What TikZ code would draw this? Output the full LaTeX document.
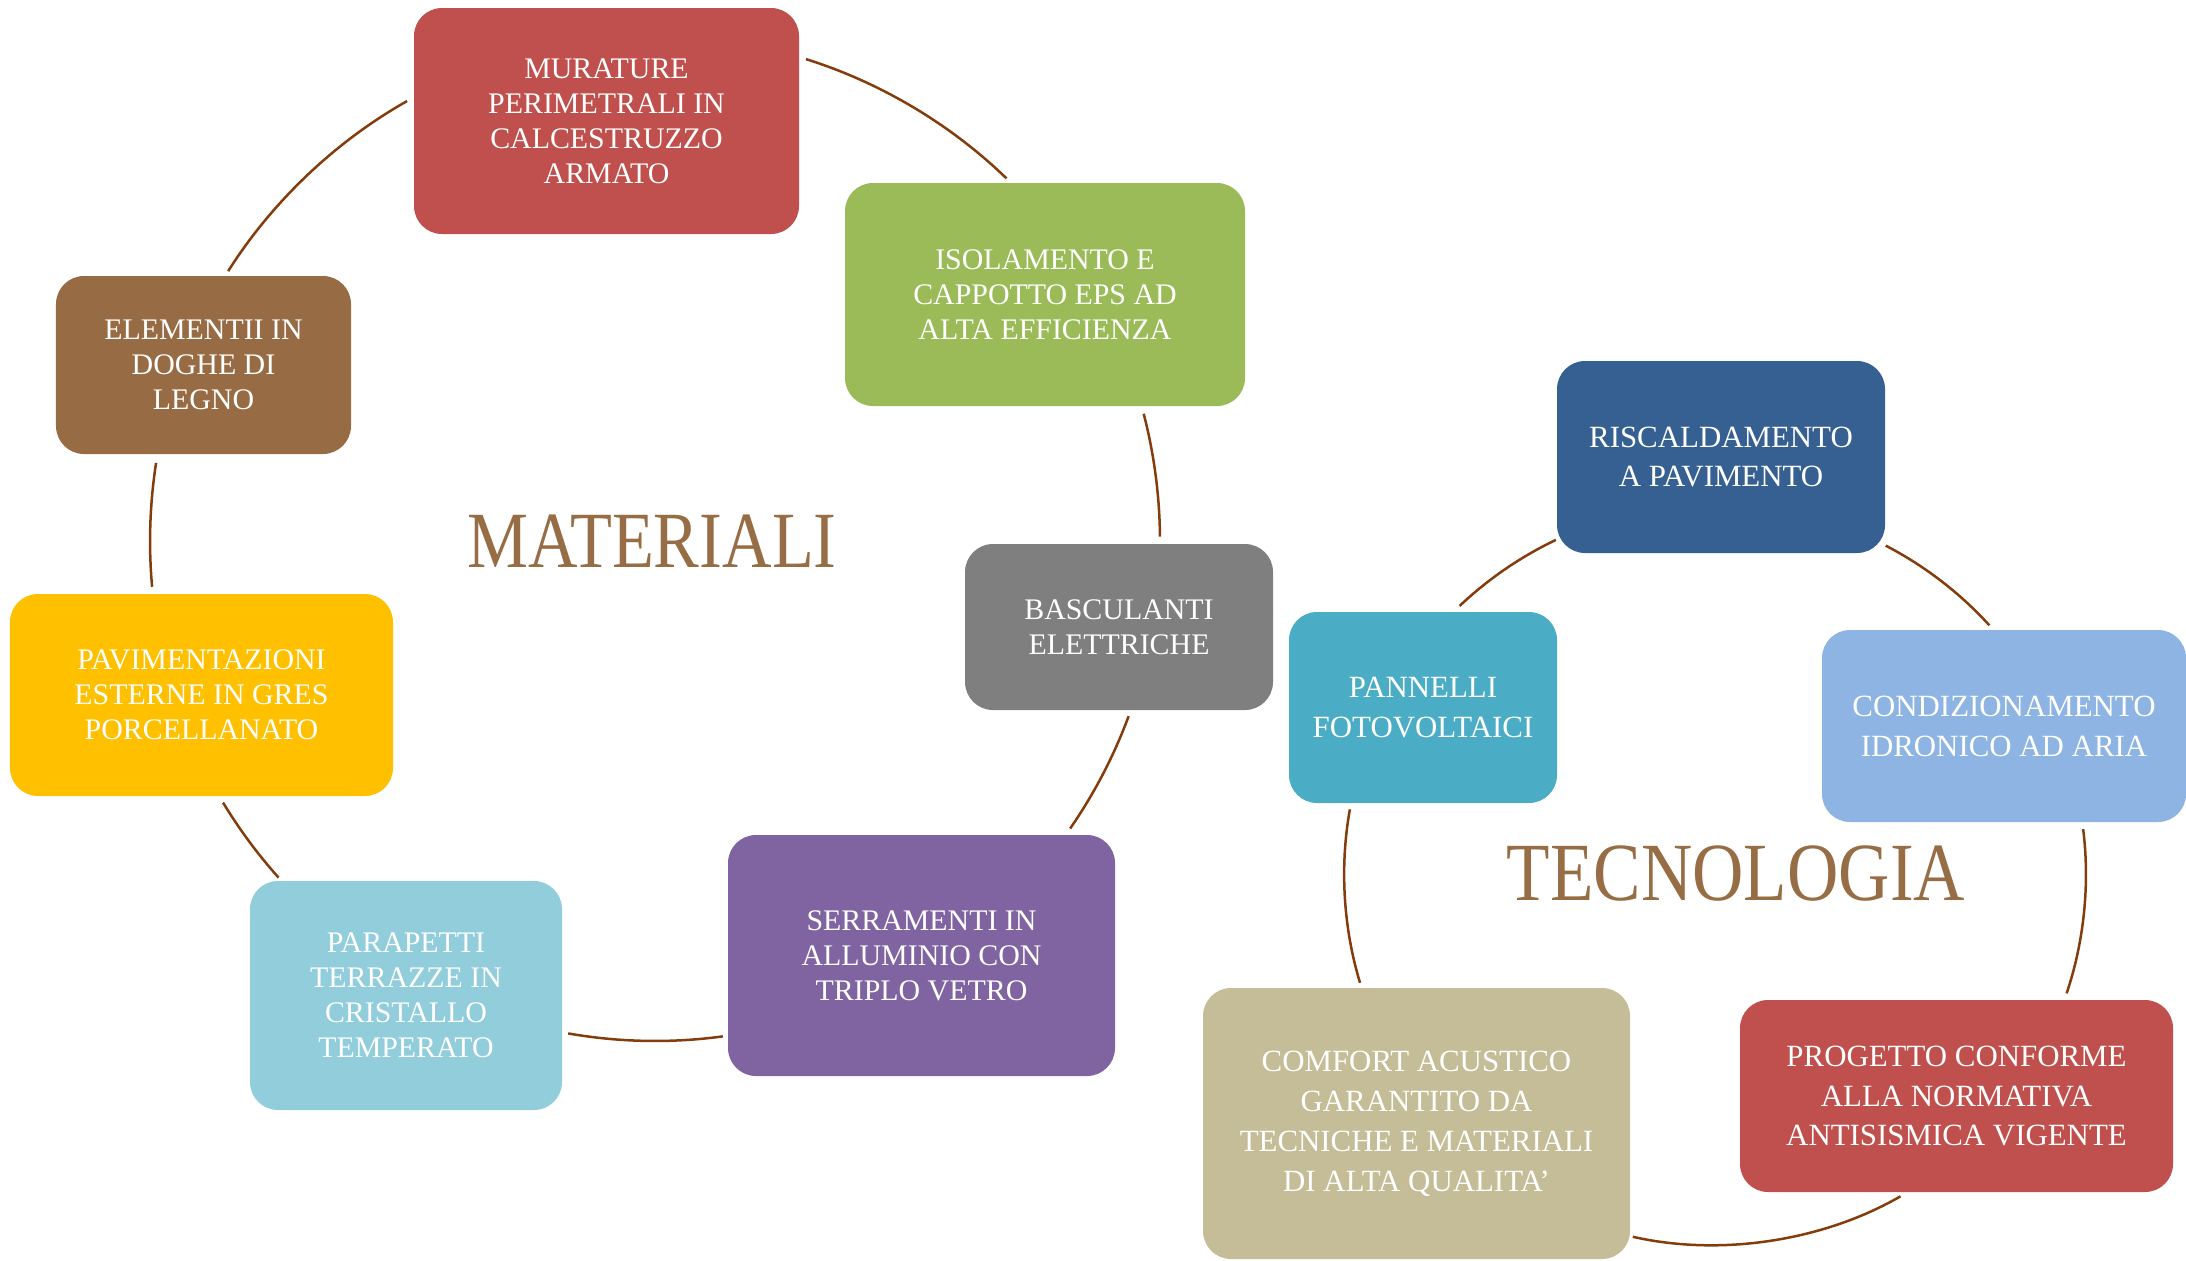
\documentclass[tikz,border=0pt]{standalone}
\usepackage{fontspec}
\setmainfont{Liberation Serif}
\newfontfamily\titlefont[FakeStretch=0.86]{Liberation Serif}
\definecolor{cmur}{HTML}{C0504D}
\definecolor{ciso}{HTML}{9BBB59}
\definecolor{cbas}{HTML}{7F7F7F}
\definecolor{cser}{HTML}{8064A2}
\definecolor{cpar}{HTML}{92CDDC}
\definecolor{cpav}{HTML}{FFC000}
\definecolor{cele}{HTML}{976C45}
\definecolor{cris}{HTML}{366092}
\definecolor{ccon}{HTML}{8DB4E2}
\definecolor{cpro}{HTML}{C0504D}
\definecolor{ccom}{HTML}{C4BD97}
\definecolor{cpan}{HTML}{4BACC6}
\definecolor{connc}{HTML}{843C0C}
\definecolor{titlec}{HTML}{976D45}
\tikzset{
  box/.style={rounded corners=28bp, inner sep=0pt, align=center, text=white,
    font=\fontsize{30}{35}\selectfont},
  tbox/.style={box, font=\fontsize{31}{40}\selectfont},
  conn/.style={draw=connc, line width=2.5bp, looseness=0.85},
  bigtitle/.style={text=titlec, inner sep=0pt, font=\titlefont\fontsize{80}{80}\selectfont}
}
\begin{document}
\begin{tikzpicture}[x=1bp,y=-1bp]
\useasboundingbox (0,0) rectangle (2186,1260);
% MATERIALI boxes
\node[box, fill=cmur, minimum width=385bp, minimum height=226bp] (mur) at (606.5,121) {MURATURE\\PERIMETRALI IN\\CALCESTRUZZO\\ARMATO};
\node[box, fill=ciso, minimum width=400bp, minimum height=223bp] (iso) at (1045,294.5) {ISOLAMENTO E\\CAPPOTTO EPS AD\\ALTA EFFICIENZA};
\node[box, fill=cbas, minimum width=308bp, minimum height=166bp] (bas) at (1119,627) {BASCULANTI\\ELETTRICHE};
\node[box, fill=cser, minimum width=387bp, minimum height=241bp] (ser) at (921.5,955.5) {SERRAMENTI IN\\ALLUMINIO CON\\TRIPLO VETRO};
\node[box, fill=cpar, minimum width=312bp, minimum height=229bp] (par) at (406,995.5) {PARAPETTI\\TERRAZZE IN\\CRISTALLO\\TEMPERATO};
\node[box, fill=cpav, minimum width=383bp, minimum height=202bp] (pav) at (201.5,695) {PAVIMENTAZIONI\\ESTERNE IN GRES\\PORCELLANATO};
\node[box, fill=cele, minimum width=295bp, minimum height=178bp] (ele) at (203.5,365) {ELEMENTII IN\\DOGHE DI\\LEGNO};
% TECNOLOGIA boxes
\node[tbox, fill=cris, minimum width=328bp, minimum height=192bp] (ris) at (1721,457) {RISCALDAMENTO\\A PAVIMENTO};
\node[tbox, fill=ccon, minimum width=364bp, minimum height=192bp] (con) at (2004,726) {CONDIZIONAMENTO\\IDRONICO AD ARIA};
\node[tbox, fill=cpro, minimum width=433bp, minimum height=192bp] (pro) at (1956.5,1096) {PROGETTO CONFORME\\ALLA NORMATIVA\\ANTISISMICA VIGENTE};
\node[tbox, fill=ccom, minimum width=427bp, minimum height=271bp] (com) at (1416.5,1123.5) {COMFORT ACUSTICO\\GARANTITO DA\\TECNICHE E MATERIALI\\DI ALTA QUALITA’};
\node[tbox, fill=cpan, minimum width=268bp, minimum height=191bp] (pan) at (1423,707.5) {PANNELLI\\FOTOVOLTAICI};
% titles
\node[bigtitle] (tmat) at (652,541) {MATERIALI};
\node[bigtitle, font=\titlefont\fontsize{83}{83}\selectfont] (ttec) at (1736,874) {TECNOLOGIA};
% circle anchors
\coordinate (mc) at (655,541);
\coordinate (tc) at (1715,875);
\path (mc) ++(-72.6:505) coordinate (a1);
\path (mc) ++(-45.9:505) coordinate (a2);
\path (mc) ++(-14.6:505) coordinate (b1);
\path (mc) ++(-0.5:505) coordinate (b2);
\path (mc) ++(20.3:505) coordinate (c1);
\path (mc) ++(34.7:505) coordinate (c2);
\path (mc) ++(82.2:500) coordinate (d1);
\path (mc) ++(100:500) coordinate (d2);
\path (mc) ++(138.2:505) coordinate (e1);
\path (mc) ++(148.8:505) coordinate (e2);
\path (mc) ++(174.8:505) coordinate (f1);
\path (mc) ++(188.9:505) coordinate (f2);
\path (mc) ++(212.3:505) coordinate (g1);
\path (mc) ++(240.6:505) coordinate (g2);
\path (tc) ++(226.5:371) coordinate (p1);
\path (tc) ++(244.6:371) coordinate (p2);
\path (tc) ++(297.4:371) coordinate (q1);
\path (tc) ++(317.7:371) coordinate (q2);
\path (tc) ++(-7.1:371) coordinate (r1);
\path (tc) ++(18.6:371) coordinate (r2);
\path (tc) ++(60:371) coordinate (s1);
\path (tc) ++(102.8:371) coordinate (s2);
\path (tc) ++(163.1:371) coordinate (t1);
\path (tc) ++(190.2:371) coordinate (t2);
% connectors
\draw[conn] (a1) to[bend left=13.4] (a2);
\draw[conn] (b1) to[bend left=7] (b2);
\draw[conn] (c1) to[bend left=7.2] (c2);
\draw[conn] (d1) to[bend left=8.9] (d2);
\draw[conn] (e1) to[bend left=5.3] (e2);
\draw[conn] (f1) to[bend left=7] (f2);
\draw[conn] (g1) to[bend left=14.2] (g2);
\draw[conn] (p1) to[bend left=9] (p2);
\draw[conn] (q1) to[bend left=10.2] (q2);
\draw[conn] (r1) to[bend left=12.9] (r2);
\draw[conn] (s1) to[bend left=21.4] (s2);
\draw[conn] (t1) to[bend left=13.6] (t2);
\end{tikzpicture}
\end{document}
